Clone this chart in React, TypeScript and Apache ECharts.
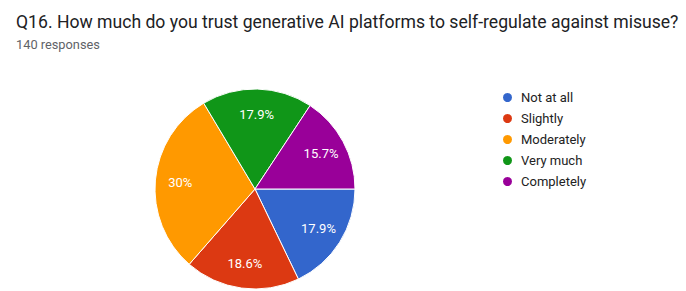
import React, { useEffect, useRef } from "react";
import * as echarts from "echarts";

const titleText = "Q16. How much do you trust generative AI platforms to self-regulate against misuse?";
const subtitleText = "140 responses";
const categories = ["Not at all", "Slightly", "Moderately", "Very much", "Completely"];
const counts = [25, 26, 42, 25, 22];
const colors = ["#3366CC", "#DC3912", "#FF9900", "#109618", "#990099"];

export default function App() {
  const ref = useRef<HTMLDivElement>(null);
  useEffect(() => {
    document.body.style.margin = "0";
    const chart = echarts.init(ref.current!, null, { renderer: "svg" });
    const data = categories.map((name, i) => ({ name, value: counts[i], itemStyle: { color: colors[i] } }));
    const total = counts.reduce((a, b) => a + b, 0);
    chart.setOption({
      animation: false,
      title: {
        text: titleText,
        subtext: subtitleText,
        left: 11,
        top: 8,
        itemGap: 7,
        textStyle: { fontFamily: "Roboto", fontSize: 17.6, fontWeight: "normal", color: "#202124" },
        subtextStyle: { fontFamily: "Roboto", fontSize: 12.8, color: "#5f6368" },
      },
      legend: {
        orient: "vertical",
        left: 496,
        top: 86,
        icon: "circle",
        itemWidth: 11,
        itemHeight: 11,
        itemGap: 8,
        data: categories,
        textStyle: { fontFamily: "Roboto", fontSize: 13, color: "#222", padding: [0, 0, 0, 3] },
      },
      series: [
        {
          type: "pie",
          center: [255, 189],
          radius: [0, 100],
          startAngle: 0,
          clockwise: true,
          data,
          itemStyle: { borderColor: "#fff", borderWidth: 1 },
          label: { show: false },
          labelLine: { show: false },
          emphasis: { disabled: true },
        },
        {
          type: "pie",
          center: [255, 189],
          radius: [0, 144],
          startAngle: 0,
          clockwise: true,
          silent: true,
          z: 3,
          data: categories.map((name, i) => ({ name, value: counts[i] })),
          itemStyle: { color: "rgba(0,0,0,0)", borderWidth: 0 },
          label: {
            show: true,
            position: "inside",
            color: "#fff",
            fontFamily: "Roboto",
            fontSize: 13,
            formatter: (p: any) => {
              const v = Math.round((p.value / total) * 1000) / 10;
              return v + "%";
            },
          },
          labelLine: { show: false },
          emphasis: { disabled: true },
        },
      ],
    });
    return () => chart.dispose();
  }, []);
  return <div ref={ref} style={{ width: 686, height: 291, background: "#fff" }} />;
}
